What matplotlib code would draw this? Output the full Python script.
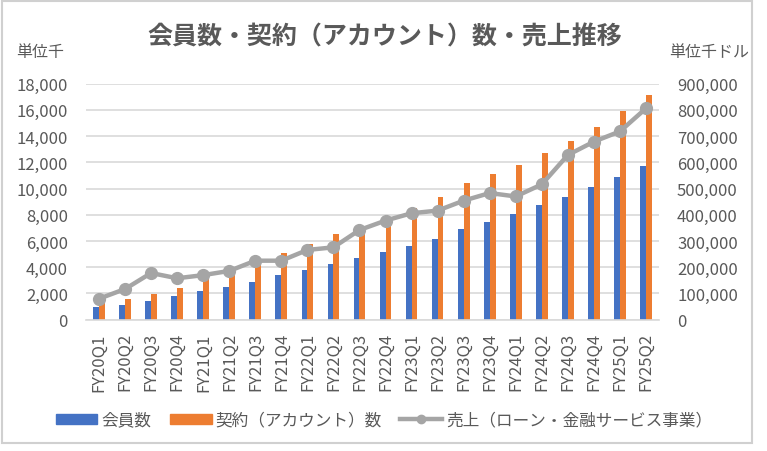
import matplotlib
matplotlib.use("Agg")
import matplotlib.pyplot as plt
from matplotlib.patches import Rectangle
from matplotlib.lines import Line2D
from matplotlib.ticker import FuncFormatter
import numpy as np

plt.rcParams['font.family'] = ['Noto Sans CJK JP', 'DejaVu Sans']

quarters = ["FY20Q1", "FY20Q2", "FY20Q3", "FY20Q4", "FY21Q1", "FY21Q2", "FY21Q3", "FY21Q4",
            "FY22Q1", "FY22Q2", "FY22Q3", "FY22Q4", "FY23Q1", "FY23Q2", "FY23Q3", "FY23Q4",
            "FY24Q1", "FY24Q2", "FY24Q3", "FY24Q4", "FY25Q1", "FY25Q2"]
members = [1000, 1120, 1430, 1810, 2190, 2500, 2880, 3420, 3800, 4260, 4710, 5170,
           5620, 6160, 6920, 7450, 8060, 8750, 9360, 10130, 10890, 11730]
accounts = [1300, 1580, 1960, 2420, 3100, 3560, 4170, 5090, 5780, 6540, 7050, 7550,
            8500, 9360, 10430, 11120, 11810, 12720, 13630, 14700, 15920, 17140]
sales = [80000, 117000, 178000, 158000, 170000, 186000, 225000, 225000, 266000, 276000,
         342000, 378000, 406000, 416000, 454000, 483000, 470000, 516000, 628000, 679000,
         718000, 806000]

left_ticks = list(range(0, 18001, 2000))
right_ticks = list(range(0, 900001, 100000))

blue = "#4472C4"
orange = "#ED7D31"
gray = "#A5A5A5"
txt = "#595959"

W, H = 767, 452
fig = plt.figure(figsize=(W/100, H/100), dpi=100)
ax = fig.add_axes([86/W, 1-320.7/H, (659-86)/W, (320.7-84.7)/H])
ax2 = ax.twinx()

x = np.arange(len(quarters))
w = 0.225
ax.bar(x - w/2, members, w, color=blue, zorder=2)
ax.bar(x + w/2, accounts, w, color=orange, zorder=2)
ax.set_ylim(0, 18000)
ax.set_xlim(-0.5, len(quarters) - 0.5)
ax.set_yticks(left_ticks)
ax.yaxis.set_major_formatter(FuncFormatter(lambda v, p: f"{int(v):,}"))
ax.grid(axis='y', color="#D9D9D9", linewidth=1.2, zorder=0)
ax.set_axisbelow(True)
ax.set_xticks(x)
ax.set_xticklabels(quarters, rotation=90, fontsize=12, color=txt)
ax.tick_params(axis='both', length=0, colors=txt, labelsize=12)
ax.tick_params(axis='y', pad=13)
ax.tick_params(axis='x', pad=9)
for s in ax.spines.values():
    s.set_visible(False)
ax.spines['bottom'].set_visible(True)
ax.spines['bottom'].set_color("#D9D9D9")
ax.spines['bottom'].set_linewidth(1.2)

ax2.plot(x, sales, color=gray, linewidth=3.2, marker='o', markersize=8.5, zorder=5)
ax2.set_ylim(0, 900000)
ax2.set_yticks(right_ticks)
ax2.yaxis.set_major_formatter(FuncFormatter(lambda v, p: f"{int(v):,}"))
ax2.tick_params(axis='y', length=0, colors=txt, labelsize=12, pad=13)
for s in ax2.spines.values():
    s.set_visible(False)

fig.text(384.5/W, 1-37.5/H, "会員数・契約（アカウント）数・売上推移", ha='center', va='center',
         fontsize=18, color=txt, fontweight='bold')
fig.text(16/W, 1-53/H, "単位千", ha='left', va='center', fontsize=11.5, color=txt)
fig.text(669/W, 1-52/H, "単位千ドル", ha='left', va='center', fontsize=11.5, color=txt)

handles = [Rectangle((0, 0), 1, 1, color=blue),
           Rectangle((0, 0), 1, 1, color=orange),
           Line2D([0], [0], color=gray, linewidth=3.2, marker='o', markersize=6)]
labels = ["会員数", "契約（アカウント）数", "売上（ローン・金融サービス事業）"]
leg = fig.legend(handles, labels, loc='center', bbox_to_anchor=(384/W, 1-421/H), ncol=3,
                 frameon=False, fontsize=12, handlelength=2.5, handleheight=0.55,
                 columnspacing=1.1, handletextpad=0.25, labelcolor=txt)

fig.patches.append(Rectangle((1.5/W, 1-443.5/H), 750.5/W, 442/H, transform=fig.transFigure,
                             fill=False, edgecolor="#D0D0D0", linewidth=1.5))

fig.savefig("out.png", dpi=100)
